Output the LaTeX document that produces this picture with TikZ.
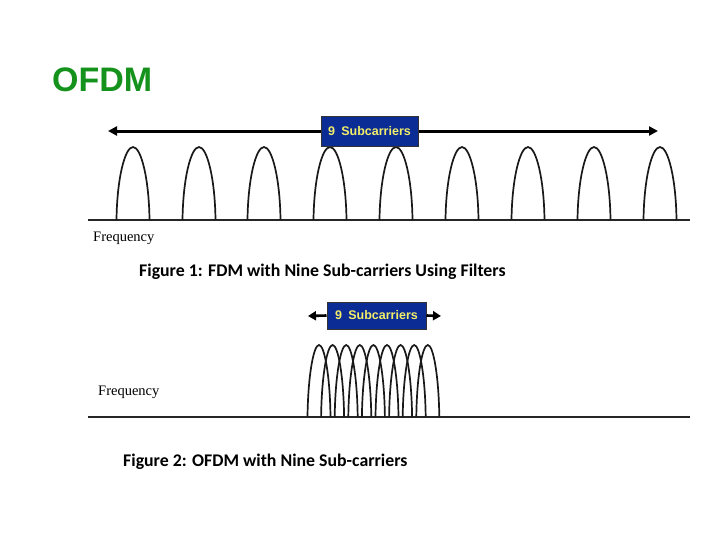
\documentclass[tikz,border=0pt]{standalone}
\usepackage{fontspec}
\usepackage{tikz}
\usetikzlibrary{arrows.meta}
\newfontfamily\ofdmSans{Liberation Sans}
\newfontfamily\ofdmSerif{Liberation Serif}
\newfontfamily\ofdmCapt{Carlito}
\definecolor{ofdmTitleGreen}{HTML}{14921C}
\definecolor{ofdmBoxBlue}{HTML}{0B2C94}
\definecolor{ofdmBoxYellow}{HTML}{F2EE6A}
\tikzset{
    subbox/.style={draw=black!80, line width=1pt, fill=ofdmBoxBlue, text=ofdmBoxYellow, inner sep=0pt, font=\ofdmSans\bfseries\fontsize{12.5}{14}\selectfont},
    hump/.style={line width=1.7pt, black!90},
    axisline/.style={line width=1.3pt, black!85},
    spanarrow/.style={-{Triangle[length=9pt, width=9pt]}, line width=3pt},
    shortarrow/.style={-{Triangle[length=8pt, width=9pt]}, line width=2.6pt},
    freqlabel/.style={anchor=base west, inner sep=0pt, font=\ofdmSerif\fontsize{14.5}{16}\selectfont},
    caplabel/.style={anchor=base west, inner sep=0pt, font=\ofdmCapt\bfseries\fontsize{17.8}{20}\selectfont}
}

\begin{document}
\begin{tikzpicture}[x=1pt, y=-1pt]
    \useasboundingbox (0,0) rectangle (728,546);
    \node[anchor=west, inner sep=0pt, text=ofdmTitleGreen, font=\ofdmSans\bfseries\fontsize{34}{38}\selectfont] (title) at (52,80) {OFDM};

    % Figure 1: nine separate sub-carriers
    \draw[axisline] (88,220) -- (690,220);
    \foreach \x in {133,199,264,330,396,462,528,594,660}{
        \draw[hump] (\x-16.5,220) .. controls (\x-16,178) and (\x-8,147) .. (\x,147)
            .. controls (\x+8,147) and (\x+16,178) .. (\x+16.5,220);
    }
    \node[subbox, minimum width=97pt, minimum height=30pt] (box1) at (369.5,131) {9\enspace Subcarriers};
    \coordinate (tipL1) at (108,131);
    \coordinate (tipR1) at (658,131);
    \draw[spanarrow] (box1.west) -- (tipL1);
    \draw[spanarrow] (box1.east) -- (tipR1);
    \node[freqlabel] (freq1) at (93,241) {Frequency};
    \node[caplabel] (cap1) at (139,276) {Figure 1: FDM with Nine Sub-carriers Using Filters};

    % Figure 2: overlapping sub-carriers
    \draw[axisline] (88,417) -- (690,417);
    \foreach \i in {0,...,8}{
        \draw[hump] (319+13.6*\i-11.5,417) .. controls (319+13.6*\i-11,376) and (319+13.6*\i-5.5,345) .. (319+13.6*\i,345)
            .. controls (319+13.6*\i+5.5,345) and (319+13.6*\i+11,376) .. (319+13.6*\i+11.5,417);
    }
    \node[subbox, minimum width=99pt, minimum height=27pt] (box2) at (376.5,315.5) {9\enspace Subcarriers};
    \coordinate (tipL2) at (308,316);
    \coordinate (tipR2) at (441,316);
    \draw[shortarrow] (box2.west) -- (tipL2);
    \draw[shortarrow] (box2.east) -- (tipR2);
    \node[freqlabel] (freq2) at (98,395) {Frequency};
    \node[caplabel] (cap2) at (123,466) {Figure 2: OFDM with Nine Sub-carriers};
\end{tikzpicture}
\end{document}
